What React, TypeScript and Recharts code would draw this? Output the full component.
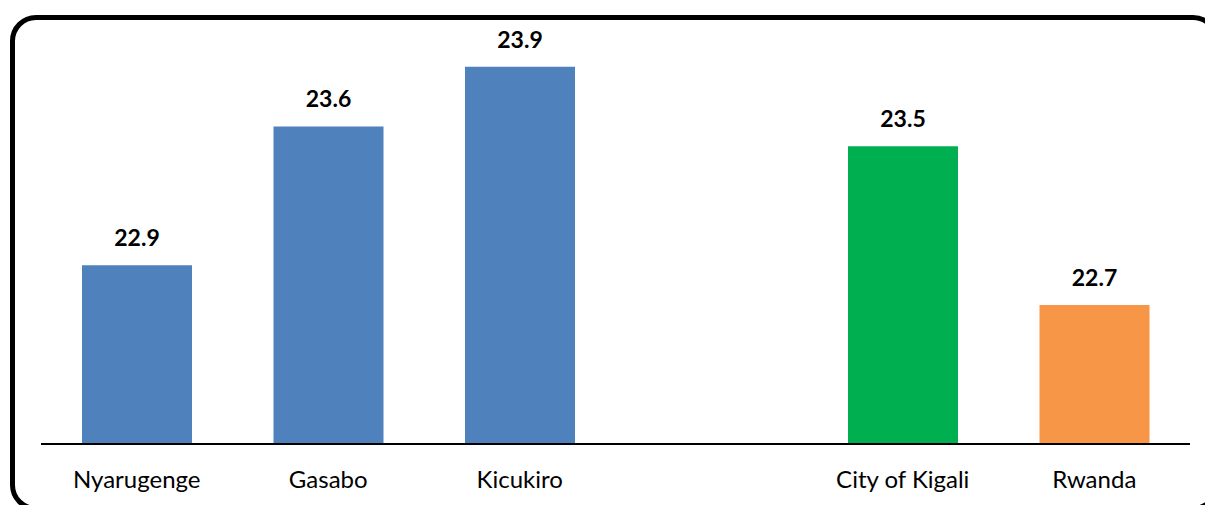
import { BarChart, Bar, XAxis, YAxis, Cell, LabelList } from "recharts";

// categories (the empty slot separates districts from the totals)
const districts = ["Nyarugenge", "Gasabo", "Kicukiro", "", "City of Kigali", "Rwanda"];
const values: (number | null)[] = [22.9, 23.6, 23.9, null, 23.5, 22.7];
const barColors = ["#4F81BD", "#4F81BD", "#4F81BD", "#4F81BD", "#00B050", "#F79646"];

const data = districts.map((name, i) => ({ name, value: values[i] }));

const font = "Lato, 'Open Sans', sans-serif";

export default function App() {
  return (
    <div style={{ position: "absolute", left: 0, top: 0, width: 1205, height: 505, overflow: "hidden", background: "#fff" }}>
      <div
        style={{
          position: "absolute",
          left: 10,
          top: 15,
          width: 1209,
          height: 496,
          boxSizing: "border-box",
          border: "5px solid #000",
          borderRadius: 26,
        }}
      />
      <div style={{ position: "absolute", left: 0, top: 0 }}>
        <BarChart
          width={1205}
          height={505}
          data={data}
          margin={{ top: 47, right: 15, left: 41, bottom: 0 }}
        >
          <YAxis hide domain={[22, 24]} allowDataOverflow />
          <XAxis
            dataKey="name"
            height={61}
            axisLine={{ stroke: "#000", strokeWidth: 2 }}
            tickLine={false}
            tickSize={0}
            tickMargin={27}
            interval={0}
            tick={{ fontSize: 24, fill: "#000", fontFamily: font }}
          />
          <Bar dataKey="value" barSize={110} isAnimationActive={false}>
            {data.map((entry, index) => (
              <Cell key={`cell-${index}`} fill={barColors[index]} />
            ))}
            <LabelList
              dataKey="value"
              position="top"
              offset={19}
              formatter={(v: any) => (v == null ? "" : Number(v).toFixed(1))}
              style={{ fontSize: 23, fontWeight: 700, fill: "#000", fontFamily: font }}
            />
          </Bar>
        </BarChart>
      </div>
    </div>
  );
}
